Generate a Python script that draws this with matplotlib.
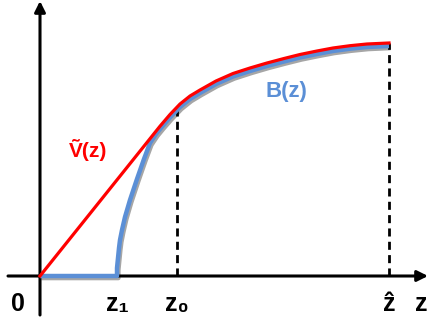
import matplotlib
matplotlib.use('Agg')
import matplotlib.pyplot as plt
import matplotlib.patheffects as pe
import numpy as np

# positions on the z axis (label, value)
tick_labels = ['0', 'z₁', 'z₀', 'ẑ']
tick_z = [0, 77, 137, 349]

# V~(z): straight line, bends over around z0 and flattens at z-hat
v_z = [0, 120, 130, 140, 150, 160, 176, 193, 210, 227, 244, 260, 277, 293, 310, 327, 349]
v_val = [0, 149.8, 161.5, 172, 180, 186, 195, 202.5, 208, 213, 217.5, 221.5, 225, 228,
         230.3, 232, 233]

# B(z): zero until z1, rises steeply, joins V~ just before z0 and runs just below it
b_z = [0, 77, 77, 78, 79, 80, 82, 85, 90, 97, 104, 110, 116, 122, 130, 140, 150, 160,
       176, 193, 210, 227, 244, 260, 277, 293, 310, 327, 349]
b_val = [0, 0, 8, 18, 28, 36, 46, 59, 76, 97, 117, 133, 142, 149.3, 158.5, 169, 177, 183,
         192, 199.5, 205, 210, 214.5, 218.5, 222, 225, 227.3, 229, 230]

RED = '#ff0000'
BLUE = '#5b8fd6'

fig = plt.figure(figsize=(4.28, 3.27), dpi=100)
ax = fig.add_axes([0, 0, 1, 1])
ax.set_xlim(-40, 388)
ax.set_ylim(-51, 276)
ax.axis('off')

# axes with arrow heads
ax.annotate('', xy=(388, 0), xytext=(-32, 0),
            arrowprops=dict(arrowstyle='-|>', lw=2.2, color='k', mutation_scale=16,
                            shrinkA=0, shrinkB=0))
ax.annotate('', xy=(0, 275), xytext=(0, -39),
            arrowprops=dict(arrowstyle='-|>', lw=2.2, color='k', mutation_scale=16,
                            shrinkA=0, shrinkB=0))

# dashed guides at z0 and z-hat, up to the curve
for zz in (tick_z[2], tick_z[3]):
    top = np.interp(zz, v_z, v_val)
    ax.plot([zz, zz], [0, top], color='k', lw=2, ls=(0, (2.9, 1.9)), zorder=2)

ax.plot(b_z, b_val, color=BLUE, lw=3.2, solid_capstyle='butt', solid_joinstyle='round',
        zorder=3,
        path_effects=[pe.SimpleLineShadow(offset=(1, -1.5), alpha=0.35), pe.Normal()])
ax.plot(v_z, v_val, color=RED, lw=2.3, solid_joinstyle='round', zorder=4)

# labels under the axis
tfont = dict(family=['Liberation Sans', 'DejaVu Sans'], weight='bold', fontsize=18)
for lab, zz in zip(tick_labels, tick_z):
    dx = -22 if lab == '0' else 0
    ax.text(zz + dx, -28, lab, ha='center', va='center', **tfont)
ax.text(388, -28, 'z', ha='right', va='center', **tfont)

ax.text(48, 126, 'Ṽ(z)', color=RED, ha='center', va='center',
        family=['Liberation Sans', 'DejaVu Sans'], weight='bold', fontsize=15)
ax.text(246, 185, 'B(z)', color=BLUE, ha='center', va='center',
        family=['Liberation Sans', 'DejaVu Sans'], weight='bold', fontsize=16)

fig.savefig('out.png', dpi=100)
